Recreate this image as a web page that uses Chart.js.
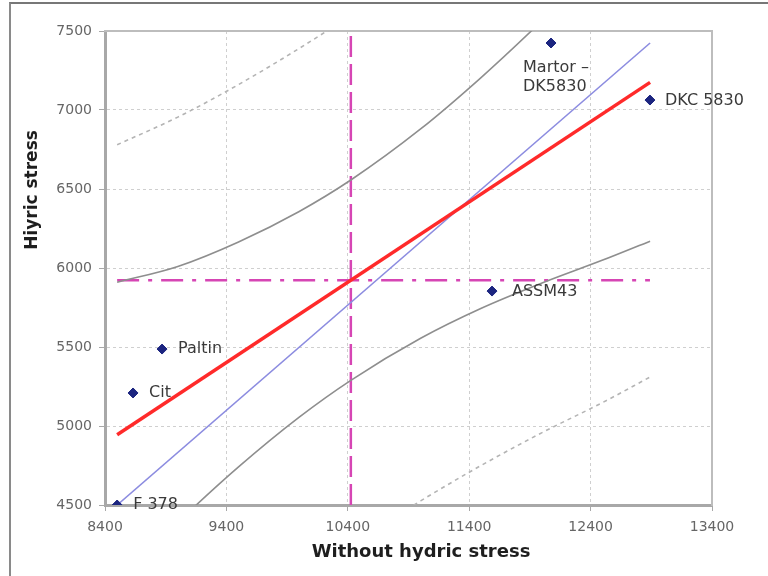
<!DOCTYPE html>
<html>
<head>
<meta charset="utf-8">
<script src="https://cdn.jsdelivr.net/npm/chart.js@4.4.0/dist/chart.umd.min.js"></script>
<style>
  html, body { margin: 0; padding: 0; background: #fff; overflow: hidden; }
  #wrap { position: relative; width: 768px; height: 576px; }
  #frame { position: absolute; left: 9px; top: 2px; width: 800px; height: 600px; border-left: 2px solid #8a8a8a; border-top: 2px solid #777; }
  canvas { position: absolute; left: 0; top: 0; }
</style>
</head>
<body>
<div id="wrap">
  <div id="frame"></div>
  <canvas id="c" width="768" height="576"></canvas>
</div>
<script>
// ---- data ----
const varieties = ['F 378', 'Cit', 'Paltin', 'ASSM43', 'Martor –\nDK5830', 'DKC 5830'];
const withoutStress = [8500, 8631, 8870, 11588, 12074, 12889];
const withStress = [4500, 5209, 5487, 5854, 7424, 7063];

const xTicks = [8400, 9400, 10400, 11400, 12400, 13400];
const yTicks = [4500, 5000, 5500, 6000, 6500, 7000, 7500];

const regX = [8500, 12890];
const regY = [4945, 7175];
const diagX = [8500, 12890];
const diagY = [4500, 7424];

const meanX = 10425;
const meanY = 5923;

const confX = [8500, 9000, 9500, 10000, 10425, 11000, 11500, 12000, 12500, 12890];
const confUpper = [5910, 6010, 6165, 6358, 6557, 6880, 7207, 7565, 7943, 8249];
const confLower = [4018, 4391, 4741, 5056, 5289, 5555, 5745, 5905, 6050, 6170];

const predUpperX = [8500, 9000, 9500, 10000, 10425, 11000];
const predUpper = [6780, 6955, 7161, 7390, 7599, 7904];
const predLowerX = [9800, 10425, 11000, 11500, 12000, 12500, 12890];
const predLower = [3900, 4247, 4526, 4751, 4958, 5149, 5310];

// ---- style (label offsets in px) ----
const labelOffsets = [[16, 0], [16, 0], [16, 0], [20, 1], [-28, 25], [15, 1]];

const pts = (xs, ys) => xs.map((x, i) => ({ x: x, y: ys[i] }));

Chart.defaults.font.family = 'DejaVu Sans';

const labelPlugin = {
  id: 'pointLabels',
  afterDatasetsDraw(chart) {
    const ctx = chart.ctx;
    const xs = chart.scales.x, ys = chart.scales.y;
    ctx.save();
    ctx.font = '16px "DejaVu Sans"';
    ctx.fillStyle = '#3a3a3a';
    ctx.textBaseline = 'middle';
    ctx.textAlign = 'left';
    varieties.forEach((name, i) => {
      const px = xs.getPixelForValue(withoutStress[i]) + labelOffsets[i][0];
      const py = ys.getPixelForValue(withStress[i]) + labelOffsets[i][1];
      name.split('\n').forEach((line, k) => ctx.fillText(line, px, py + k * 19));
    });
    ctx.restore();
  }
};

const titlePlugin = {
  id: 'axisTitles',
  afterDraw(chart) {
    const ctx = chart.ctx;
    ctx.save();
    ctx.fillStyle = '#1e1e1e';
    ctx.font = 'bold 18px "DejaVu Sans"';
    ctx.textAlign = 'center';
    ctx.textBaseline = 'middle';
    ctx.fillText('Without hydric stress', 421, 552);
    ctx.translate(33, 190);
    ctx.rotate(-Math.PI / 2);
    ctx.font = 'bold 17px "DejaVu Sans"';
    ctx.fillText('Hiyric stress', 0, 0);
    ctx.restore();
  }
};

const gridColor = (edgeVals) => (c) => (c.tick && edgeVals.includes(c.tick.value)) ? 'rgba(0,0,0,0)' : '#cfcfcf';
const plain = (v) => String(v);

new Chart(document.getElementById('c'), {
  type: 'scatter',
  data: {
    datasets: [
      {
        label: 'Varieties',
        data: pts(withoutStress, withStress),
        pointStyle: 'rectRot',
        pointRadius: 5,
        backgroundColor: '#1c2580',
        borderColor: '#1c2580',
        order: 0
      },
      {
        label: 'Regression',
        data: pts(regX, regY),
        showLine: true, pointRadius: 0,
        borderColor: '#ff2a2a', borderWidth: 3.5,
        order: 1
      },
      {
        label: 'Diagonal',
        data: pts(diagX, diagY),
        showLine: true, pointRadius: 0,
        borderColor: '#8c8ce0', borderWidth: 1.6,
        order: 2
      },
      {
        label: 'Conf upper',
        data: pts(confX, confUpper),
        showLine: true, pointRadius: 0, tension: 0.4, cubicInterpolationMode: 'monotone',
        borderColor: '#8e8e8e', borderWidth: 1.6,
        order: 3
      },
      {
        label: 'Conf lower',
        data: pts(confX, confLower),
        showLine: true, pointRadius: 0, tension: 0.4, cubicInterpolationMode: 'monotone',
        borderColor: '#8e8e8e', borderWidth: 1.6,
        order: 3
      },
      {
        label: 'Pred upper',
        data: pts(predUpperX, predUpper),
        showLine: true, pointRadius: 0, tension: 0.4, cubicInterpolationMode: 'monotone',
        borderColor: '#b4b4b4', borderWidth: 1.6, borderDash: [4, 4],
        order: 3
      },
      {
        label: 'Pred lower',
        data: pts(predLowerX, predLower),
        showLine: true, pointRadius: 0, tension: 0.4, cubicInterpolationMode: 'monotone',
        borderColor: '#b4b4b4', borderWidth: 1.6, borderDash: [4, 4],
        order: 3
      },
      {
        label: 'Mean Y',
        data: pts([withoutStress[0], withoutStress[5]], [meanY, meanY]),
        showLine: true, pointRadius: 0,
        borderColor: '#d645b4', borderWidth: 2.5, borderDash: [22, 9, 4, 9],
        order: 4
      },
      {
        label: 'Mean X',
        data: pts([meanX, meanX], [yTicks[0], yTicks[yTicks.length - 1]]),
        showLine: true, pointRadius: 0,
        borderColor: '#d645b4', borderWidth: 2.5, borderDash: [21, 7],
        order: 4
      }
    ]
  },
  options: {
    responsive: false,
    animation: false,
    layout: { padding: { left: 0, right: 56, top: 31, bottom: 0 } },
    plugins: { legend: { display: false }, tooltip: { enabled: false } },
    scales: {
      x: {
        type: 'linear',
        min: xTicks[0], max: xTicks[xTicks.length - 1],
        afterBuildTicks: (s) => { s.ticks = xTicks.map(v => ({ value: v })); },
        afterFit: (s) => { s.height = 71; },
        ticks: { color: '#666', font: { size: 14 }, padding: 8, maxRotation: 0, callback: plain },
        grid: { color: gridColor([xTicks[0], xTicks[xTicks.length - 1]]), lineWidth: 1, tickColor: '#a8a8a8', tickLength: 6 },
        border: { color: '#a8a8a8', width: 3, dash: [3, 3] }
      },
      y: {
        type: 'linear',
        min: yTicks[0], max: yTicks[yTicks.length - 1],
        afterBuildTicks: (s) => { s.ticks = yTicks.map(v => ({ value: v })); },
        afterFit: (s) => { s.width = 105; },
        ticks: { color: '#666', font: { size: 14 }, padding: 7, callback: plain },
        grid: { color: gridColor([yTicks[0], yTicks[yTicks.length - 1]]), lineWidth: 1, tickColor: '#a8a8a8', tickLength: 6 },
        border: { color: '#a8a8a8', width: 3, dash: [3, 3] }
      },
      x2: {
        type: 'linear', position: 'top',
        min: xTicks[0], max: xTicks[xTicks.length - 1],
        afterFit: (s) => { s.height = 0; },
        ticks: { display: false },
        grid: { display: true, drawOnChartArea: false, drawTicks: false },
        border: { display: true, color: '#bdbdbd', width: 2 }
      },
      y2: {
        type: 'linear', position: 'right',
        min: yTicks[0], max: yTicks[yTicks.length - 1],
        afterFit: (s) => { s.width = 0; },
        ticks: { display: false },
        grid: { display: true, drawOnChartArea: false, drawTicks: false },
        border: { display: true, color: '#bdbdbd', width: 2 }
      }
    }
  },
  plugins: [labelPlugin, titlePlugin]
});
</script>
</body>
</html>
